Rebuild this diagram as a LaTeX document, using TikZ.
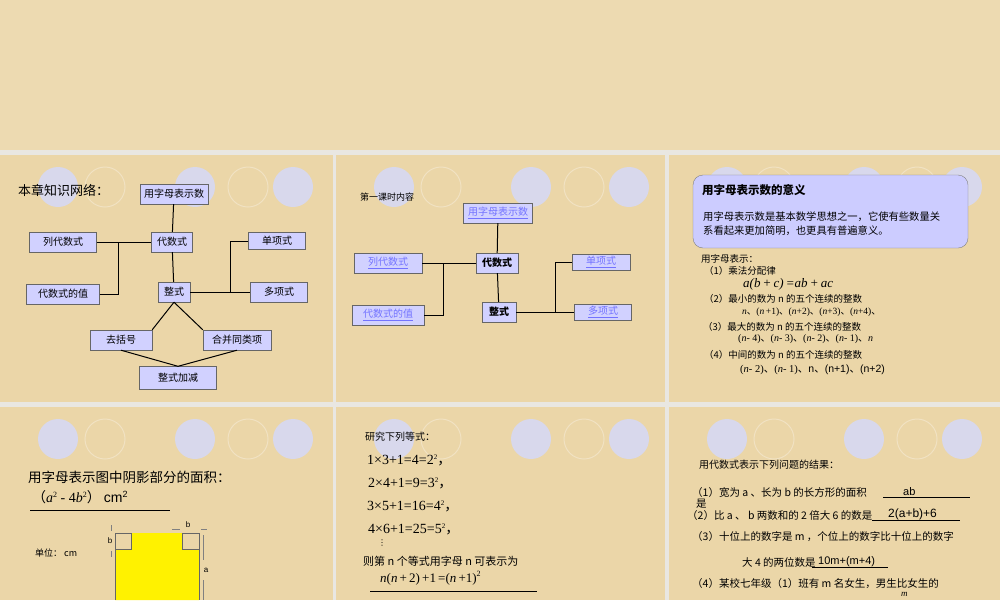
\documentclass[tikz,border=0pt]{standalone}
\usepackage{fontspec}
\setmainfont{Noto Sans CJK SC}
\newfontfamily\tms{Liberation Serif}
\newfontfamily\arl{Liberation Sans}
\newfontfamily\cjk{Noto Sans CJK SC}
\newfontfamily\dvs{DejaVu Sans}
\newcommand\dn{{\cjk 、}}
\newcommand\cm{{\cjk ，}}
\begin{document}
\begin{tikzpicture}[x=1pt,y=-1pt,
 bx/.style={draw=gray!80!black,fill=blue!18,inner sep=0pt,minimum height=20pt,font=\fontsize{10}{10}\selectfont},
 lk/.style={bx,font=\fontsize{10}{10}\selectfont\color{blue!55}},
 ln/.style={line width=1pt},
 tx/.style={anchor=west,inner sep=0pt}]
\definecolor{bg}{HTML}{EBD6A8}
\definecolor{sep}{HTML}{E9E7E2}
\definecolor{cir}{HTML}{D8D8EC}
\useasboundingbox (0,0) rectangle (1000,600);
\fill[sep] (0,0) rectangle (1000,600);
\fill[bg!90!white] (0,0) rectangle (1000,150);
\foreach \x/\w in {0/333,336/329,669/331}{
  \foreach \y/\h in {155/247,407/193}{
    \fill[bg] (\x,\y) rectangle ++(\w,\h);
    \foreach \c/\f in {58/1,105/0,195/1,248/0,293/1}{
      \ifnum\f=1 \fill[cir] (\x+\c,\y+32) circle (20);
      \else \draw[bg!70!white,line width=1pt] (\x+\c,\y+32) circle (20);\fi}
  }}
% panel 1
\node[tx,font=\fontsize{13}{14}\selectfont] (t1) at (18,190) {本章知识网络：};
\node[bx,minimum width=68pt] (a1) at (174,194) {用字母表示数};
\node[bx,minimum width=41pt] (b1) at (172,242) {代数式};
\node[bx,minimum width=67pt] (c1) at (63,242) {列代数式};
\node[bx,minimum width=73pt] (d1) at (63,294) {代数式的值};
\node[bx,minimum width=32pt] (e1) at (174,292) {整式};
\node[bx,minimum width=57pt,minimum height=17pt] (f1) at (277,241) {单项式};
\node[bx,minimum width=57pt] (g1) at (279,292) {多项式};
\node[bx,minimum width=62pt] (h1) at (121,340) {去括号};
\node[bx,minimum width=68pt] (i1) at (237,340) {合并同类项};
\node[bx,minimum width=77pt,minimum height=23pt] (j1) at (178,378) {整式加减};
\draw[ln] (a1) -- (b1); \draw[ln] (b1) -- (e1);
\draw[ln] (c1) -- (b1);
\draw[ln] (d1.east) -| (118,242);
\draw[ln] (e1) -- (g1);
\draw[ln] (f1.west) -| (230,292);
\draw[ln] (e1.south) -- (h1.north east);
\draw[ln] (e1.south) -- (i1.north west);
\draw[ln] (h1.south) -- (j1.north);
\draw[ln] (i1.south) -- (j1.north);
% panel 2
\node[tx,font=\fontsize{9}{10}\selectfont] (t2) at (360,197) {第一课时内容};
\node[lk,minimum width=69pt] (a2) at (498,213) {\underline{用字母表示数}};
\node[bx,minimum width=42pt,font=\fontsize{10}{10}\selectfont\bfseries] (b2) at (497,263) {代数式};
\node[lk,minimum width=68pt] (c2) at (388,263) {\underline{列代数式}};
\node[lk,minimum width=72pt] (d2) at (388,315) {\underline{代数式的值}};
\node[bx,minimum width=34pt,font=\fontsize{10}{10}\selectfont\bfseries] (e2) at (499,312) {整式};
\node[lk,minimum width=58pt,minimum height=16pt] (f2) at (601,262) {\underline{单项式}};
\node[lk,minimum width=57pt,minimum height=16pt] (g2) at (603,312) {\underline{多项式}};
\draw[ln] (a2) -- (b2); \draw[ln] (b2) -- (e2); \draw[ln] (c2) -- (b2);
\draw[ln] (d2.east) -| (443,263);
\draw[ln] (e2) -- (g2);
\draw[ln] (f2.west) -| (555,312);
% panel 3
\node[draw=gray,fill=blue!20,rounded corners=10pt,minimum width=275pt,minimum height=73pt] (r3) at (830.5,211.5) {};
\node[tx,font=\fontsize{11.5}{12}\selectfont\bfseries] (p1) at (702,190) {用字母表示数的意义};
\node[tx,font=\fontsize{10.3}{10}\selectfont] (p2) at (703,217) {用字母表示数是基本数学思想之一，它使有些数量关};
\node[tx,font=\fontsize{10.3}{10}\selectfont] (p3) at (703,231) {系看起来更加简明，也更具有普遍意义。};
\node[tx,font=\fontsize{9.5}{10}\selectfont] (p4) at (701,259) {用字母表示：};
\node[tx,font=\fontsize{9.5}{10}\selectfont] (p5) at (704,271) {（1）乘法分配律};
\node[tx,font=\fontsize{13}{14}\selectfont\tms\itshape] (p6) at (743,284) {a(b\,+\,c)\,=ab\,+\,ac};
\node[tx,font=\fontsize{9.5}{10}\selectfont] (p7) at (704,299) {（2）最小的数为 n 的五个连续的整数};
\node[tx,font=\fontsize{9.5}{10}\selectfont\tms] (p8) at (742,312) {\textit{n}\dn(\textit{n}\,+1)\dn(\textit{n}+2)\dn(\textit{n}+3)\dn(\textit{n}+4)\dn};
\node[tx,font=\fontsize{9.5}{10}\selectfont] (p9) at (703,327) {（3）最大的数为 n 的五个连续的整数};
\node[tx,font=\fontsize{10}{10}\selectfont\tms] (p10) at (738,339) {(\textit{n}- 4)\dn(\textit{n}- 3)\dn(\textit{n}- 2)\dn(\textit{n}- 1)\dn\textit{n}};
\node[tx,font=\fontsize{9.5}{10}\selectfont] (p11) at (704,355) {（4）中间的数为 n 的五个连续的整数};
\node[tx,font=\fontsize{10.5}{10}\selectfont\tms] (p12) at (740,370) {(\textit{n}- 2)\dn(\textit{n}- 1)\dn{\arl n\dn(n+1)\dn(n+2)}};
% panel 4
\node[tx,font=\fontsize{13.5}{15}\selectfont] (q1) at (28,477) {用字母表示图中阴影部分的面积：};
\node[tx,font=\fontsize{14}{16}\selectfont] (q2) at (32,497) {（{\tms\itshape a}{\tms\fontsize{8}{8}\selectfont\raisebox{5pt}{2}}{\tms\ - 4\textit{b}}{\tms\fontsize{8}{8}\selectfont\raisebox{5pt}{2}}） {\arl cm\fontsize{9}{9}\selectfont\raisebox{5pt}{2}}};
\draw[line width=1pt] (30,510) -- (170,510);
\node[tx,font=\fontsize{9}{10}\selectfont] (q3) at (35,553) {单位： cm};
\fill[yellow] (115,549) -- (131,549) -- (131,533) -- (182,533) -- (182,549) -- (199,549) -- (199,600) -- (115,600) -- cycle;
\draw[gray!80!black] (115,533) rectangle (131,549) (182,533) rectangle (199,549);
\draw[gray!80!black] (115,549) -- (115,600) (199,549) -- (199,600);
\draw[gray,thin] (111,525) -- (111,531) (111,551) -- (111,557) (203,535) -- (203,560) (203,580) -- (203,600) (172,529) -- (180,529) (201,529) -- (207,529);
\node[font=\fontsize{8}{9}\selectfont\arl] (q4) at (110,541) {b};
\node[font=\fontsize{8}{9}\selectfont\arl] (q5) at (188,525) {b};
\node[font=\fontsize{8}{9}\selectfont\arl] (q6) at (206,570) {a};
% panel 5
\node[tx,font=\fontsize{10}{11}\selectfont] (s1) at (365,437) {研究下列等式：};
\node[tx,font=\fontsize{14}{16}\selectfont\tms] (s2) at (367,460) {1×3+1=4=2\raisebox{5pt}{\fontsize{7}{7}\selectfont 2}\cm};
\node[tx,font=\fontsize{14}{16}\selectfont\tms] (s3) at (368,483) {2×4+1=9=3\raisebox{5pt}{\fontsize{7}{7}\selectfont 2}\cm};
\node[tx,font=\fontsize{14}{16}\selectfont\tms] (s4) at (367,506) {3×5+1=16=4\raisebox{5pt}{\fontsize{7}{7}\selectfont 2}\cm};
\node[tx,font=\fontsize{14}{16}\selectfont\tms] (s5) at (368,529) {4×6+1=25=5\raisebox{5pt}{\fontsize{7}{7}\selectfont 2}\cm};
\node[tx,font=\fontsize{8}{8}\selectfont\dvs] (s6) at (378,543) {⋮};
\node[tx,font=\fontsize{11}{12}\selectfont] (s7) at (363,561) {则第 n 个等式用字母 n 可表示为};
\node[tx,font=\fontsize{13}{15}\selectfont\tms] (s8) at (380,578) {\textit{n}(\textit{n}\,+\,2)\,+1\,=(\textit{n}\,+1)\raisebox{6pt}{\fontsize{8}{8}\selectfont 2}};
\draw[line width=1pt] (370,591) -- (537,591);
% panel 6
\node[tx,font=\fontsize{10}{10}\selectfont] (u1) at (699,465) {用代数式表示下列问题的结果：};
\node[tx,font=\fontsize{10.5}{10}\selectfont] (u2) at (692,492) {（1）宽为 a 、长为 b 的长方形的面积};
\node[tx,font=\fontsize{11}{12}\selectfont\arl] (u3) at (903,492) {ab};
\draw (883,497) -- (970,497);
\node[tx,font=\fontsize{10.5}{10}\selectfont] (u4) at (696,504) {是};
\node[tx,font=\fontsize{10.5}{10}\selectfont] (u5) at (687,515) {（2）比 a 、 b 两数和的 2 倍大 6 的数是};
\node[tx,font=\fontsize{12}{13}\selectfont\arl] (u6) at (888,514) {2(a+b)+6};
\draw (872,520) -- (960,520);
\node[tx,font=\fontsize{10.5}{10}\selectfont] (u7) at (692,537) {（3）十位上的数字是 m ，个位上的数字比十位上的数字};
\node[tx,font=\fontsize{10.5}{10}\selectfont] (u8) at (742,562) {大 4 的两位数是};
\node[tx,font=\fontsize{11}{12}\selectfont\arl] (u9) at (818,562) {10m+(m+4)};
\draw (812,567) -- (888,567);
\node[tx,font=\fontsize{10.5}{10}\selectfont] (u10) at (692,584) {（4）某校七年级（1）班有 m 名女生，男生比女生的};
\node[tx,font=\fontsize{9}{10}\selectfont\tms\itshape] (u11) at (901,594) {m};
\end{tikzpicture}
\end{document}
